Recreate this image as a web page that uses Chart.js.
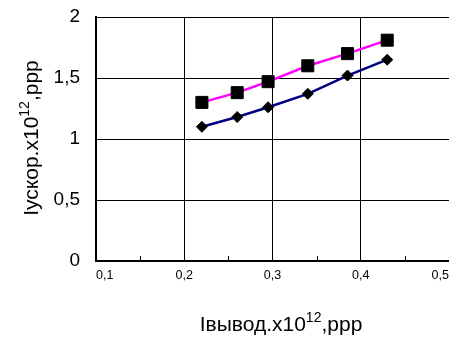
<!DOCTYPE html>
<html>
<head>
<meta charset="utf-8">
<script src="https://cdn.jsdelivr.net/npm/chart.js@4/dist/chart.umd.min.js"></script>
<style>
html,body{margin:0;padding:0;background:#fff;overflow:hidden}
#wrap{width:449px;height:338px}
</style>
</head>
<body>
<div id="wrap"><canvas id="grafico" width="449" height="338"></canvas></div>
<script>
// values
let iVyvod = [0.22, 0.26, 0.295, 0.34, 0.385, 0.43]
let iUskorKvadrat = [1.3, 1.38, 1.47, 1.6, 1.7, 1.81]
let iUskorRomb = [1.1, 1.18, 1.26, 1.37, 1.52, 1.65]

let xTickLabels = ["0,1", "0,2", "0,3", "0,4", "0,5"]
let yTickLabels = ["0", "0,5", "1", "1,5", "2"]

// axis titles: [before superscript, superscript, after]
let xTitle = ["Iвывод.x10", "12", ",ppp"]
let yTitle = ["Iускор.x10", "12", ",ppp"]

function pontos(ys){
  return iVyvod.map((x,i)=>({x:x, y:ys[i]}))
}

let fonte = "'Liberation Sans', Arial, sans-serif"

// draws a title with a raised "12"
function tituloSup(ctx, partes, cx, baseY){
  let f1 = "21px " + fonte
  let f2 = "14px " + fonte
  ctx.font = f1
  let w1 = ctx.measureText(partes[0]).width
  let w3 = ctx.measureText(partes[2]).width
  ctx.font = f2
  let w2 = ctx.measureText(partes[1]).width
  let x = cx - (w1+w2+w3)/2
  ctx.textAlign = "left"
  ctx.textBaseline = "alphabetic"
  ctx.fillStyle = "#000"
  ctx.font = f1
  ctx.fillText(partes[0], x, baseY)
  ctx.font = f2
  ctx.fillText(partes[1], x+w1, baseY-9)
  ctx.font = f1
  ctx.fillText(partes[2], x+w1+w2, baseY)
}

let titulos = {
  id:"titulos",
  afterDraw(chart){
    let ctx = chart.ctx
    ctx.save()
    tituloSup(ctx, xTitle, 281, 331)
    ctx.translate(38, 138)
    ctx.rotate(-Math.PI/2)
    tituloSup(ctx, yTitle, 0, 0)
    ctx.restore()
  }
}

// small inner ticks halfway between the x gridlines
let minorTicks = {
  id:"minorTicks",
  afterDatasetsDraw(chart){
    let sx = chart.scales.x
    let ctx = chart.ctx
    let t = sx.ticks
    ctx.save()
    ctx.strokeStyle = "#000"
    ctx.lineWidth = 1
    for(let i=0;i<t.length-1;i++){
      let px = Math.round(sx.getPixelForValue((t[i].value+t[i+1].value)/2)) + 0.5
      ctx.beginPath()
      ctx.moveTo(px, sx.top)
      ctx.lineTo(px, sx.top-5)
      ctx.stroke()
    }
    ctx.restore()
  }
}

new Chart(document.getElementById("grafico"),{
  type:"line",
  data:{
    datasets:[{
      data:pontos(iUskorKvadrat),
      borderColor:"#ff00ff",
      borderWidth:2.5,
      pointStyle:"rect",
      pointRadius:8.5,
      pointBackgroundColor:"#000",
      pointBorderColor:"#000",
      pointBorderWidth:1,
      tension:0
    },{
      data:pontos(iUskorRomb),
      borderColor:"#000080",
      borderWidth:2.5,
      pointStyle:"rectRot",
      pointRadius:5.5,
      pointBackgroundColor:"#000",
      pointBorderColor:"#000",
      pointBorderWidth:1,
      tension:0
    }]
  },
  options:{
    responsive:false,
    animation:false,
    layout:{autoPadding:false, padding:{top:17,right:0,left:0,bottom:0}},
    plugins:{legend:{display:false},tooltip:{enabled:false}},
    scales:{
      x:{
        type:"linear",
        min:0.1,
        max:0.5,
        afterFit(s){ s.height = 77; s.paddingLeft = 0; s.paddingRight = 0 },
        ticks:{
          stepSize:0.1,
          align:"inner",
          padding:7,
          color:"#000",
          font:{family:fonte,size:12.5},
          callback:(v,i)=>xTickLabels[i]
        },
        grid:{color:"#000",lineWidth:1,drawTicks:false},
        border:{color:"#000",width:2}
      },
      y:{
        min:0,
        max:2,
        afterFit(s){ s.width = 96; s.paddingTop = 0; s.paddingBottom = 0 },
        ticks:{
          stepSize:0.5,
          padding:16,
          color:"#000",
          font:{family:fonte,size:19},
          callback:(v,i)=>yTickLabels[i]
        },
        grid:{color:"#000",lineWidth:1,drawTicks:false},
        border:{color:"#000",width:2}
      }
    }
  },
  plugins:[minorTicks, titulos]
})
</script>
</body>
</html>
